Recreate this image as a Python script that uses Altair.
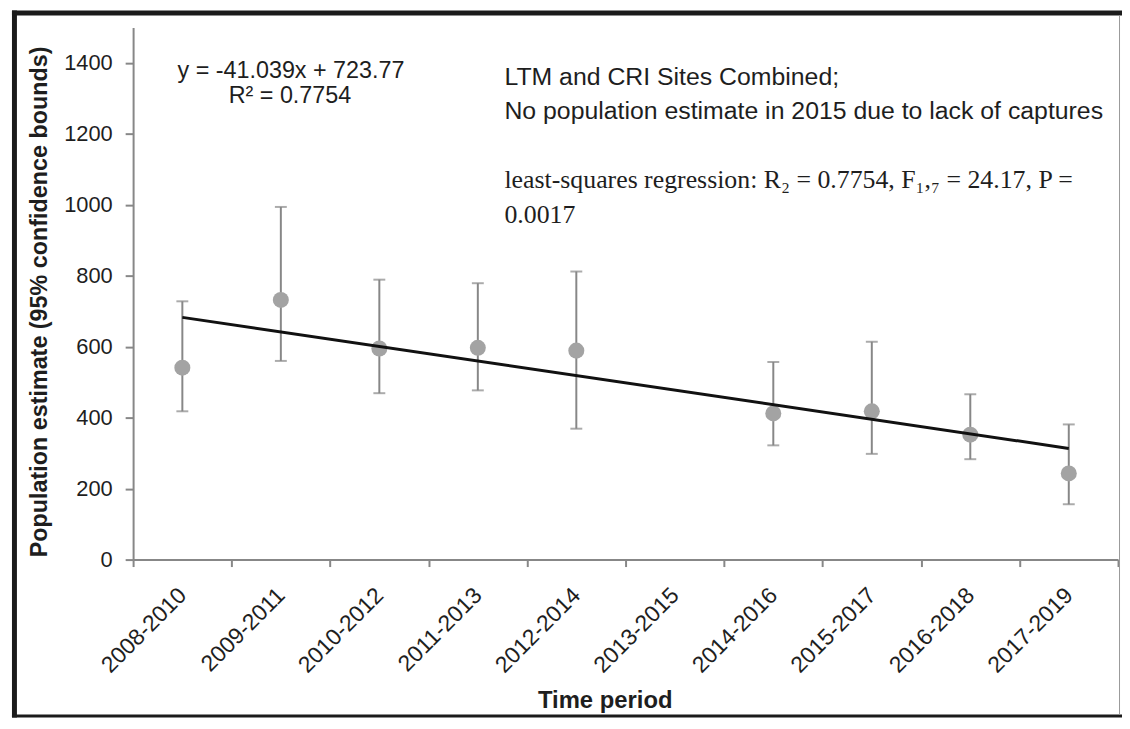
import altair as alt
import pandas as pd

# ---- data ----
periods = ["2008-2010", "2009-2011", "2010-2012", "2011-2013", "2012-2014",
           "2013-2015", "2014-2016", "2015-2017", "2016-2018", "2017-2019"]
est_periods = ["2008-2010", "2009-2011", "2010-2012", "2011-2013", "2012-2014",
               "2014-2016", "2015-2017", "2016-2018", "2017-2019"]
estimate = [541, 732, 595, 597, 589, 412, 418, 352, 243]
lower = [418, 560, 469, 477, 369, 322, 298, 283, 156]
upper = [728, 994, 789, 779, 812, 557, 614, 466, 381]

# printed trendline equation y = -41.039x + 723.77 (x = period index)
slope = -41.039
intercept = 723.77
trend_periods = ["2008-2010", "2017-2019"]
trend_index = [1, 10]

y_ticks = [0, 200, 400, 600, 800, 1000, 1200, 1400]

df = pd.DataFrame({"period": est_periods, "estimate": estimate,
                   "lower": lower, "upper": upper})
trend = pd.DataFrame({"period": trend_periods,
                      "fit": [intercept + slope * i for i in trend_index]})
one = pd.DataFrame({"_": [0]})

W, H = 992, 536
PAD = {"left": 126, "top": 17, "right": 4, "bottom": 159}
SANS = "Liberation Sans"
SERIF = "Liberation Serif"
GRAY_AX = "#878787"
GRAY_PT = "#a3a3a3"
INK = "#1e1e1e"

x_enc = alt.X("period:N",
              scale=alt.Scale(type="band", domain=periods, paddingInner=0, paddingOuter=0),
              axis=alt.Axis(title="Time period", labelAngle=-45, labelAlign="right",
                            labelBaseline="middle", tickBand="extent",
                            labelFont=SANS, labelFontSize=23, labelColor=INK,
                            labelPadding=25, tickSize=7, tickWidth=2, tickColor=GRAY_AX,
                            domainColor=GRAY_AX, domainWidth=2, grid=False,
                            titleFont=SANS, titleFontSize=24, titleFontWeight="bold",
                            titleColor=INK, titleX=475, titleY=149,
                            titleAlign="center", titleBaseline="alphabetic"))
y_scale = alt.Scale(domain=[0, 1500], nice=False)
y_axis = alt.Axis(title="Population estimate (95% confidence bounds)", values=y_ticks,
                  format="d",
                  labelFont=SANS, labelFontSize=22, labelColor=INK, labelPadding=13,
                  tickSize=8, tickWidth=2, tickColor=GRAY_AX,
                  domainColor=GRAY_AX, domainWidth=2, grid=False,
                  titleFont=SANS, titleFontSize=23.5, titleFontWeight="bold",
                  titleColor=INK, titleX=-94, titleY=276,
                  titleAlign="center", titleBaseline="middle")

base = alt.Chart(df)
err = base.mark_rule(color=GRAY_AX, strokeWidth=2).encode(
    x=x_enc, y=alt.Y("lower:Q", scale=y_scale, axis=y_axis), y2="upper:Q")
cap_hi = base.mark_tick(color=GRAY_AX, thickness=2, size=12, orient="horizontal").encode(
    x=x_enc, y=alt.Y("upper:Q", scale=y_scale))
cap_lo = base.mark_tick(color=GRAY_AX, thickness=2, size=12, orient="horizontal").encode(
    x=x_enc, y=alt.Y("lower:Q", scale=y_scale))
pts = base.mark_circle(color=GRAY_PT, opacity=1, size=260).encode(
    x=x_enc, y=alt.Y("estimate:Q", scale=y_scale))
line = alt.Chart(trend).mark_line(color="#111111", strokeWidth=3).encode(
    x=x_enc, y=alt.Y("fit:Q", scale=y_scale))


def label(txt, x, y, font=SANS, size=24, align="left"):
    return alt.Chart(one).mark_text(text=txt, font=font, fontSize=size, color=INK,
                                    align=align, baseline="alphabetic").encode(
        x=alt.value(x), y=alt.value(y))


texts = [
    label("y = -41.039x + 723.77", 159, 51, size=23.5, align="center"),
    label("R² = 0.7754", 158, 76, size=23.5, align="center"),
    label("LTM and CRI Sites Combined;", 374, 58, size=25),
    label("No population estimate in 2015 due to lack of captures", 374, 92, size=25),
    label("least-squares regression: R₂ = 0.7754, F₁,₇ = 24.17, P =", 374, 162,
          font=SERIF, size=26),
    label("0.0017", 374, 197, font=SERIF, size=26),
]

total_w = W + PAD["right"]
total_h = H + PAD["bottom"]
FR = "#1b1b1b"
frame = [
    alt.Chart(one).mark_rect(color=FR).encode(
        x=alt.value(-122), x2=alt.value(-117), y=alt.value(-17), y2=alt.value(total_h)),
    alt.Chart(one).mark_rect(color=FR).encode(
        x=alt.value(-122), x2=alt.value(total_w), y=alt.value(-17), y2=alt.value(-12)),
    alt.Chart(one).mark_rect(color=FR).encode(
        x=alt.value(-122), x2=alt.value(total_w), y=alt.value(total_h - 3), y2=alt.value(total_h)),
    alt.Chart(one).mark_rect(color="#9a9a9a").encode(
        x=alt.value(W + 1), x2=alt.value(W + 2), y=alt.value(-12), y2=alt.value(total_h - 3)),
]

chart = alt.layer(err, cap_hi, cap_lo, pts, line, *texts, *frame).properties(
    width=W, height=H, padding=PAD,
    autosize=alt.AutoSizeParams(type="none"),
    background="white",
).configure_view(stroke=None)

chart.save("out.html", embed_options={"renderer": "svg", "actions": False})
